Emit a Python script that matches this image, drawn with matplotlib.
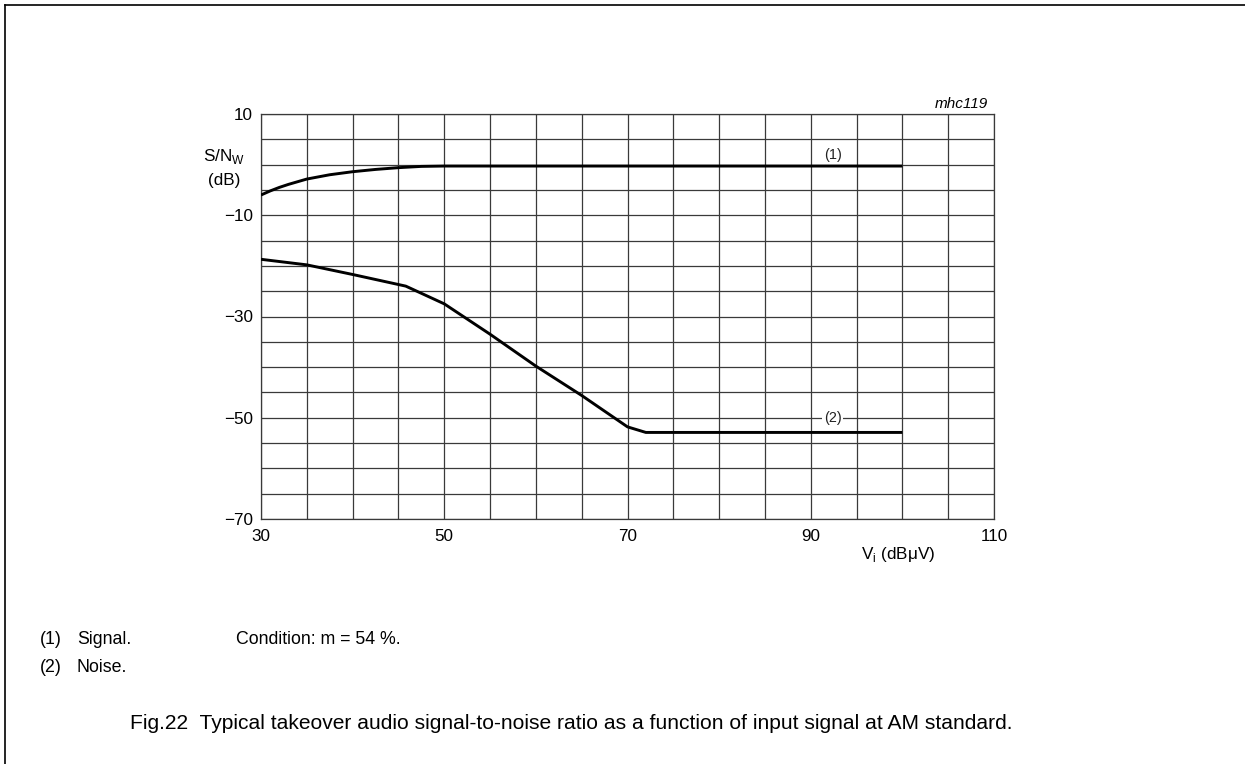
import matplotlib
matplotlib.use("Agg")
import matplotlib.pyplot as plt
from matplotlib.lines import Line2D

plt.rcParams['font.family'] = ['Liberation Sans', 'DejaVu Sans']

# ---- data ----
signal_x = [30, 31, 32, 33, 35, 37.5, 40, 42.5, 45, 47.5, 50, 100]
signal_y = [-6.0, -5.2, -4.5, -3.9, -2.85, -2.0, -1.4, -0.95, -0.6, -0.35, -0.28, -0.28]
noise_x = [30, 35, 40, 45.8, 50, 55, 60, 65, 70, 72, 100]
noise_y = [-18.7, -19.8, -21.7, -24.0, -27.5, -33.5, -39.8, -45.6, -51.8, -52.9, -52.9]
x_ticks = list(range(30, 111, 5))
x_labels = ['30', '50', '70', '90', '110']
y_ticks = list(range(-70, 11, 5))
y_labels = ['\u221270', '\u221250', '\u221230', '\u221210', '10']

W, H = 1245, 764
fig = plt.figure(figsize=(W / 100, H / 100), dpi=100)
ax = fig.add_axes([261 / W, 1 - 519 / H, (994 - 261) / W, (519 - 114) / H])
ax.set_xlim(30, 110)
ax.set_ylim(-70, 10)

ax.set_xticks(x_ticks)
ax.set_xticklabels([str(t) if str(t) in x_labels else '' for t in x_ticks])
ax.set_yticks(y_ticks)
ylab_map = {int(s.replace('\u2212', '-')): s for s in y_labels}
ax.set_yticklabels([ylab_map.get(t, '') for t in y_ticks])
ax.tick_params(length=0, labelsize=12.3)
ax.tick_params(axis='x', pad=7.5)
ax.tick_params(axis='y', pad=6)
ax.grid(True, color='#3a3a3a', linewidth=0.9)
ax.set_axisbelow(True)
for s in ax.spines.values():
    s.set_color('#3a3a3a')
    s.set_linewidth(0.9)

ax.plot(signal_x, signal_y, color='black', linewidth=2.1, solid_capstyle='butt', zorder=3)
ax.plot(noise_x, noise_y, color='black', linewidth=2.1, solid_capstyle='butt', zorder=3)

ax.text(92.4, 2.0, '(1)', ha='center', va='center', fontsize=10.4, color='#222')
ax.text(92.4, -50, '(2)', ha='center', va='center', fontsize=10.4, color='#222',
        bbox=dict(boxstyle='square,pad=0.1', facecolor='white', edgecolor='none'), zorder=4)

def fx(px):
    return px / W

def fy(py):
    return 1 - py / H

fig.text(fx(988), fy(104), 'mhc119', ha='right', va='center', fontsize=11, style='italic')
fig.text(fx(224), fy(157), 'S/N$_\\mathregular{W}$', ha='center', va='center', fontsize=12.3)
fig.text(fx(224), fy(180), '(dB)', ha='center', va='center', fontsize=12.3)
fig.text(fx(898), fy(554), 'V$_\\mathregular{i}$ (dB\u03bcV)', ha='center', va='center', fontsize=12.3)

fs_note = 12.8
fig.text(fx(40), fy(639), '(1)', ha='left', va='center', fontsize=fs_note)
fig.text(fx(77), fy(639), 'Signal.', ha='left', va='center', fontsize=fs_note)
fig.text(fx(236), fy(639), 'Condition: m = 54 %.', ha='left', va='center', fontsize=fs_note)
fig.text(fx(40), fy(667), '(2)', ha='left', va='center', fontsize=fs_note)
fig.text(fx(77), fy(667), 'Noise.', ha='left', va='center', fontsize=fs_note)

fig.text(fx(130), fy(729),
         'Fig.22  Typical takeover audio signal-to-noise ratio as a function of input signal at AM standard.',
         ha='left', va='baseline', fontsize=15.1)

# page frame (top and left edges)
fig.add_artist(Line2D([fx(5), fx(5)], [fy(5), 0], color='black', linewidth=1.2))
fig.add_artist(Line2D([fx(5), 1], [fy(5), fy(5)], color='black', linewidth=1.2))

fig.savefig('out.png', dpi=100)
